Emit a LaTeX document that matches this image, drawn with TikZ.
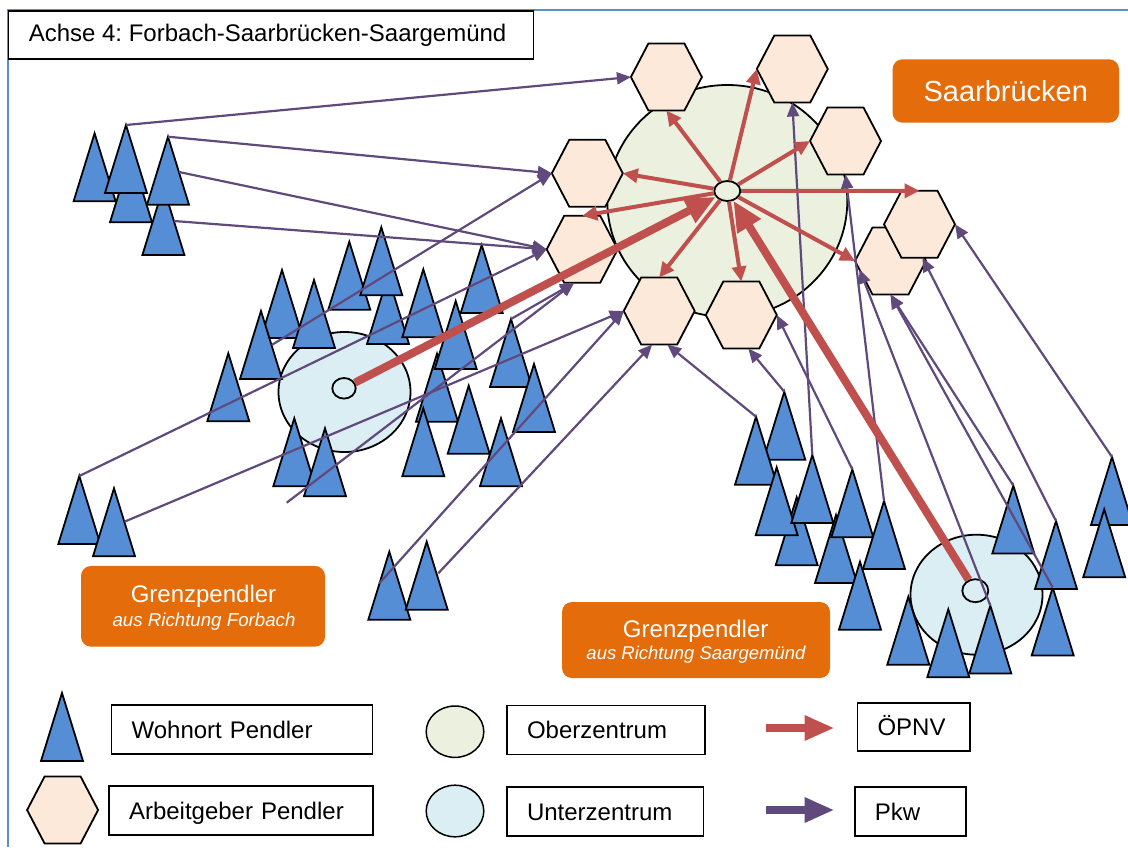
\documentclass[tikz,border=0pt]{standalone}
\usepackage{fontspec}
\setmainfont{Liberation Sans}
\usetikzlibrary{arrows.meta,shapes.geometric,calc}
\definecolor{triblue}{HTML}{558ED5}
\definecolor{hexfill}{HTML}{FDE9D9}
\definecolor{ozgreen}{HTML}{EBF1DE}
\definecolor{uzblue}{HTML}{DBEEF4}
\definecolor{oepnvred}{HTML}{C0504D}
\definecolor{pkwpurple}{HTML}{604A7B}
\definecolor{orangeC}{HTML}{E46C0A}
\definecolor{frameblue}{HTML}{5B8FCA}
\frenchspacing
\newcommand{\legfont}{\fontsize{24}{28}\selectfont}
\newcommand{\Tri}[3]{\coordinate (#1) at (#2,#3); \draw[trishape] (#1) -- ++(-21,68) -- ++(42,0) -- cycle;}
\newcommand{\Hexa}[3]{%
  \coordinate (#1) at (#2,#3);
  \coordinate (#1-w) at ($(#1)+(-35.5,0)$);
  \coordinate (#1-e) at ($(#1)+(35.5,0)$);
  \coordinate (#1-n) at ($(#1)+(0,-33.5)$);
  \coordinate (#1-s) at ($(#1)+(0,33.5)$);
  \draw[hexshape] (#1-w) -- ++(17.5,-33.5) -- ++(36,0) -- ++(17.5,33.5) -- ++(-17.5,33.5) -- ++(-36,0) -- cycle;}
\begin{document}
\begin{tikzpicture}[x=1pt,y=-1pt,
  trishape/.style={draw=black, line width=1.8pt, fill=triblue},
  hexshape/.style={draw=black, line width=1.8pt, fill=hexfill},
  zone/.style={ellipse, draw=black, line width=1.8pt, inner sep=0pt},
  pk/.style={draw=pkwpurple, line width=2.2pt, -{Triangle[length=14pt,width=12pt]}},
  rd/.style={draw=oepnvred, line width=4pt, -{Triangle[length=15pt,width=14pt]}},
  rdbig/.style={draw=oepnvred, line width=8pt, -{Triangle[length=30pt,width=26pt]}},
  lbox/.style={draw=black, line width=1.5pt, fill=white, inner xsep=20pt, inner ysep=0pt,
     align=left, font=\legfont, text height=17pt, text depth=0pt, minimum height=49pt},
  orbox/.style={fill=orangeC, rounded corners=10pt, inner sep=0pt},
  wtext/.style={text=white, inner sep=0pt, anchor=base}]
\useasboundingbox (0,0) rectangle (1128,847);
% frame
\coordinate (fbl) at (7.9,847);
\coordinate (ftl) at (7.9,10);
\coordinate (ftr) at (1128,10);
\draw[frameblue, line width=2pt] (fbl) -- (ftl) -- (ftr);
\node[draw=black, line width=1.5pt, fill=white, anchor=north west, minimum height=48.3pt,
  minimum width=524.6pt, inner sep=0pt] (title) at (7.9,10) {};
\node[inner sep=0pt, anchor=base west, font=\legfont] (titletext) at (28.6,41.8) {Achse 4: Forbach-Saarbrücken-Saargemünd};
% zones
\node[zone, fill=ozgreen, minimum width=240pt, minimum height=232pt] (OZ) at (727.3,201) {};
\node[zone, fill=uzblue, minimum width=132pt, minimum height=120pt] (UZF) at (344.5,392) {};
\node[zone, fill=uzblue, minimum width=132pt, minimum height=120pt] (UZS) at (976.5,594.7) {};
% cluster A
\Tri{T1}{94.6}{133.3}
\Tri{T3}{131}{154.3}
\Tri{T2}{126}{125}
\Tri{T5}{163.4}{187}
\Tri{T4}{168}{136.7}
% cluster B
\Tri{B1}{228.3}{353.3}
\Tri{B3}{282}{270}
\Tri{B2}{261}{311}
\Tri{B4}{314}{280}
\Tri{B5}{349.3}{241.7}
\Tri{B7}{388}{276}
\Tri{B6}{381.3}{227.3}
\Tri{B8}{423.3}{269.3}
\Tri{B9}{481.7}{245}
\Tri{B11}{437}{353.7}
\Tri{B10}{455.7}{301}
\Tri{B12}{511}{319}
\Tri{B13}{534}{364}
\Tri{B15}{423.3}{408.3}
\Tri{B14}{468.7}{385.7}
\Tri{B16}{501}{418.3}
\Tri{B17}{294.3}{418.3}
\Tri{B18}{325}{428.3}
% cluster C, E
\Tri{C1}{79.3}{476}
\Tri{C2}{114}{488.3}
\Tri{E1}{389.3}{551.7}
\Tri{E2}{426.7}{541.7}
% cluster D
\Tri{D1}{784.3}{391.7}
\Tri{D2}{756}{416.7}
\Tri{D4}{796.7}{497.3}
\Tri{D3}{776.7}{467.3}
\Tri{D7}{836}{515}
\Tri{D5}{812.3}{455}
\Tri{D6}{852.3}{469.3}
\Tri{D9}{860}{561.7}
\Tri{D8}{884}{501}
\Tri{D10}{908.3}{596.7}
\Tri{D12}{990.3}{605.5}
\Tri{D11}{948.3}{609.3}
\Tri{D13}{1013.3}{485.5}
\Tri{D15}{1052.7}{587.5}
\Tri{D14}{1056}{521}
\Tri{D16}{1112}{457}
\Tri{D17}{1104.2}{509.3}
% hexagons
\Hexa{H1}{666.4}{77}
\Hexa{H2}{792.3}{69}
\Hexa{H3}{845.5}{141}
\Hexa{H4}{587.3}{173.3}
\Hexa{H5}{582.2}{249.3}
\Hexa{H6}{659.2}{311}
\Hexa{H7}{741.3}{315}
\Hexa{H9}{890.5}{261}
\Hexa{H8}{919.5}{224.3}
% centres
\node[zone, fill=ozgreen, minimum width=26pt, minimum height=20pt] (OZc) at (727.3,191) {};
\node[zone, fill=uzblue, minimum width=23.4pt, minimum height=20.6pt] (UZFc) at (344,388.3) {};
\node[zone, fill=uzblue, minimum width=26pt, minimum height=23pt] (UZSc) at (975.3,590.7) {};
% extra anchor points
\coordinate (T4r) at (179,172);
\coordinate (T5r) at (174,221);
\coordinate (B2r) at (271.7,345);
\coordinate (C2r) at (124.5,521.7);
\coordinate (FL) at (286.7,502.7);
\coordinate (E1l) at (379.3,583.3);
\coordinate (E2r) at (438.3,573.3);
\coordinate (H5b) at ($(H5)+(-8,33.5)$);
\coordinate (H6b1) at ($(H6)+(-7,33.5)$);
\coordinate (H6b2) at ($(H6)+(8,33.5)$);
\coordinate (H7b) at ($(H7)+(7,33.5)$);
\coordinate (H9l) at ($(H9)+(-31,8.5)$);
\coordinate (H8b) at ($(H8)+(3,33.5)$);
% Pkw connectors
\draw[pk] (T2) -- (H1-w);
\draw[pk] (T4) -- (H4-w);
\draw[pk] (T4r) -- (H5-w);
\draw[pk] (T5r) -- (H5-w);
\draw[pk] (C1) -- (H5-w);
\draw[pk] (B2r) -- (H4-w);
\draw[pk] (C2r) -- (H6-w);
\draw[pk] (FL) -- (H5b);
\draw[pk] (B12) -- (H5b);
\draw[pk] (E1l) -- (H6-w);
\draw[pk] (E2r) -- (H6b1);
\draw[pk] (D2) -- (H6b2);
\draw[pk] (D1) -- (H7b);
\draw[pk] (D6) -- (H7-e);
\draw[pk] (D5) -- (H2-s);
\draw[pk] (D8) -- (H3-s);
\draw[pk] (D12) -- (H9l);
\draw[pk] (D13) -- (H9-s);
\draw[pk] (D15) -- (H9-s);
\draw[pk] (D14) -- (H8b);
\draw[pk] (D16) -- (H8-e);
% OEPNV connectors
\draw[rd] (OZc) -- (H1-s);
\draw[rd] (OZc) -- (H2-w);
\draw[rd] (OZc) -- (H3-w);
\draw[rd] (OZc) -- (H8-n);
\draw[rd] (OZc) -- (H9-w);
\draw[rd] (OZc) -- (H7-n);
\draw[rd] (OZc) -- (H6-n);
\draw[rd] (OZc) -- (H5-n);
\draw[rd] (OZc) -- (H4-e);
\draw[rdbig] (UZFc) -- (OZc);
\draw[rdbig] (UZSc) -- (OZc);
% labels
\node[orbox, minimum width=226.5pt, minimum height=63.4pt, text=white,
  font=\fontsize{29}{34}\selectfont, text height=20.8pt, text depth=0pt] (SB) at (1005.8,91) {Saarbrücken};
\node[orbox, minimum width=244pt, minimum height=80.7pt] (GPF) at (203,606.3) {};
\node[wtext, font=\legfont] (GPF1) at (203.5,602.6) {Grenzpendler};
\node[wtext, font=\fontsize{18.7}{22}\selectfont\itshape] (GPF2) at (204,626.7) {aus Richtung Forbach};
\node[orbox, minimum width=268pt, minimum height=76pt] (GPS) at (696,640) {};
\node[wtext, font=\legfont] (GPS1) at (695.7,637.6) {Grenzpendler};
\node[wtext, font=\fontsize{18.5}{22}\selectfont\itshape] (GPS2) at (696,659.5) {aus Richtung Saargemünd};
% legend
\Tri{LT}{62}{693}
\Hexa{LH}{62.6}{810}
\node[zone, line width=1.5pt, fill=ozgreen, minimum width=57.6pt, minimum height=51.4pt] (LOZ) at (455,731.7) {};
\node[zone, line width=1.5pt, fill=uzblue, minimum width=57.6pt, minimum height=51.6pt] (LUZ) at (455,811) {};
\node[lbox, minimum width=261pt, text width=221pt] (L1) at (242.1,729.5) {Wohnort Pendler};
\node[lbox, minimum width=264pt, text width=224pt] (L2) at (241,810.5) {Arbeitgeber Pendler};
\node[lbox, minimum width=198pt, text width=158pt] (L3) at (606,730) {Oberzentrum};
\node[lbox, minimum width=196.6pt, text width=156.6pt] (L4) at (605.3,811.5) {Unterzentrum};
\node[lbox, minimum width=112.5pt, minimum height=48.3pt, text width=72.5pt] (L5) at (913.75,726.9) {ÖPNV};
\node[lbox, minimum width=111.3pt, text width=71.3pt] (L6) at (910.4,811.5) {Pkw};
\coordinate (LA1s) at (766,728);
\coordinate (LA1e) at (834.5,728);
\coordinate (LA2s) at (766,810);
\coordinate (LA2e) at (834.5,810);
\draw[draw=oepnvred, line width=8.3pt, -{Triangle[length=30pt,width=23.5pt]}] (LA1s) -- (LA1e);
\draw[draw=pkwpurple, line width=8.3pt, -{Triangle[length=30pt,width=23.5pt]}] (LA2s) -- (LA2e);
\end{tikzpicture}
\end{document}
